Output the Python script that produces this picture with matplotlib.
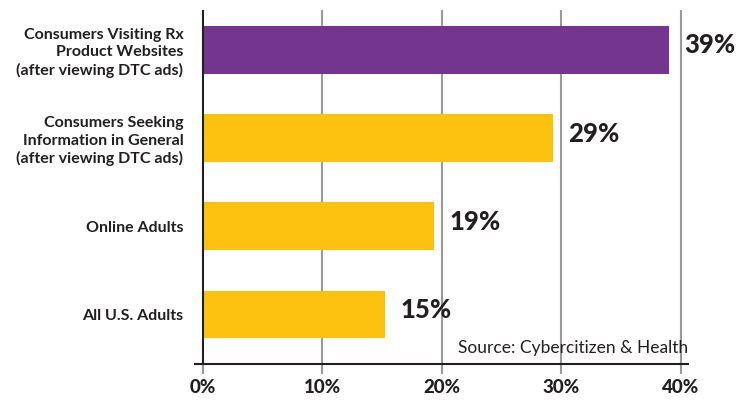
import matplotlib.pyplot as plt

categories = ['All U.S. Adults', 'Online Adults',
              'Consumers Seeking\nInformation in General\n(after viewing DTC ads)',
              'Consumers Visiting Rx\nProduct Websites\n(after viewing DTC ads)']
values = [15.2, 19.3, 29.3, 39.0]
value_labels = ['15%', '19%', '29%', '39%']
bar_colors = ['#FDC210', '#FDC210', '#FDC210', '#743591']
xticks = [0, 10, 20, 30, 40]
xtick_labels = ['0%', '10%', '20%', '30%', '40%']

plt.rcParams['font.family'] = ['Lato', 'DejaVu Sans']

fig = plt.figure(figsize=(7.39, 4.01), dpi=100)
ax = fig.add_axes([0.2633, 0.0923, 0.6677, 0.8828])

pos = range(len(categories))
ax.barh(pos, values, height=0.54, color=bar_colors, zorder=3)

for p, v, lab in zip(pos, values, value_labels):
    ax.text(v + 1.3, p + 0.05, lab, va='center', ha='left',
            fontsize=18.5, fontweight=900, color='#231F20')

# grid lines
for x in xticks[1:]:
    ax.axvline(x, color='#999999', lw=1.5, zorder=1)
ax.axvline(0, color='#231F20', lw=1.5, zorder=4)

ax.set_xlim(-0.7, 40.6)
ax.set_ylim(-0.56, 3.45)

ax.set_yticks(list(pos))
ax.set_yticklabels(categories, fontsize=11.5, fontweight='bold',
                   color='#231F20', linespacing=1.3)
ax.tick_params(axis='y', length=0, pad=8)

ax.set_xticks(xticks)
ax.set_xticklabels(xtick_labels, fontsize=13.5, fontweight=900, color='#231F20')
ax.tick_params(axis='x', length=7, width=1.5, color='#999999', pad=4)
ax.get_xticklines()[0].set_color('#231F20')

for s in ['top', 'right', 'left']:
    ax.spines[s].set_visible(False)
ax.spines['bottom'].set_linewidth(1.5)
ax.spines['bottom'].set_color('#231F20')

ax.text(40.65, -0.38, 'Source: Cybercitizen & Health', ha='right', va='center',
        fontsize=12.5, color='#231F20', zorder=5)

fig.savefig('out.png', dpi=100)
